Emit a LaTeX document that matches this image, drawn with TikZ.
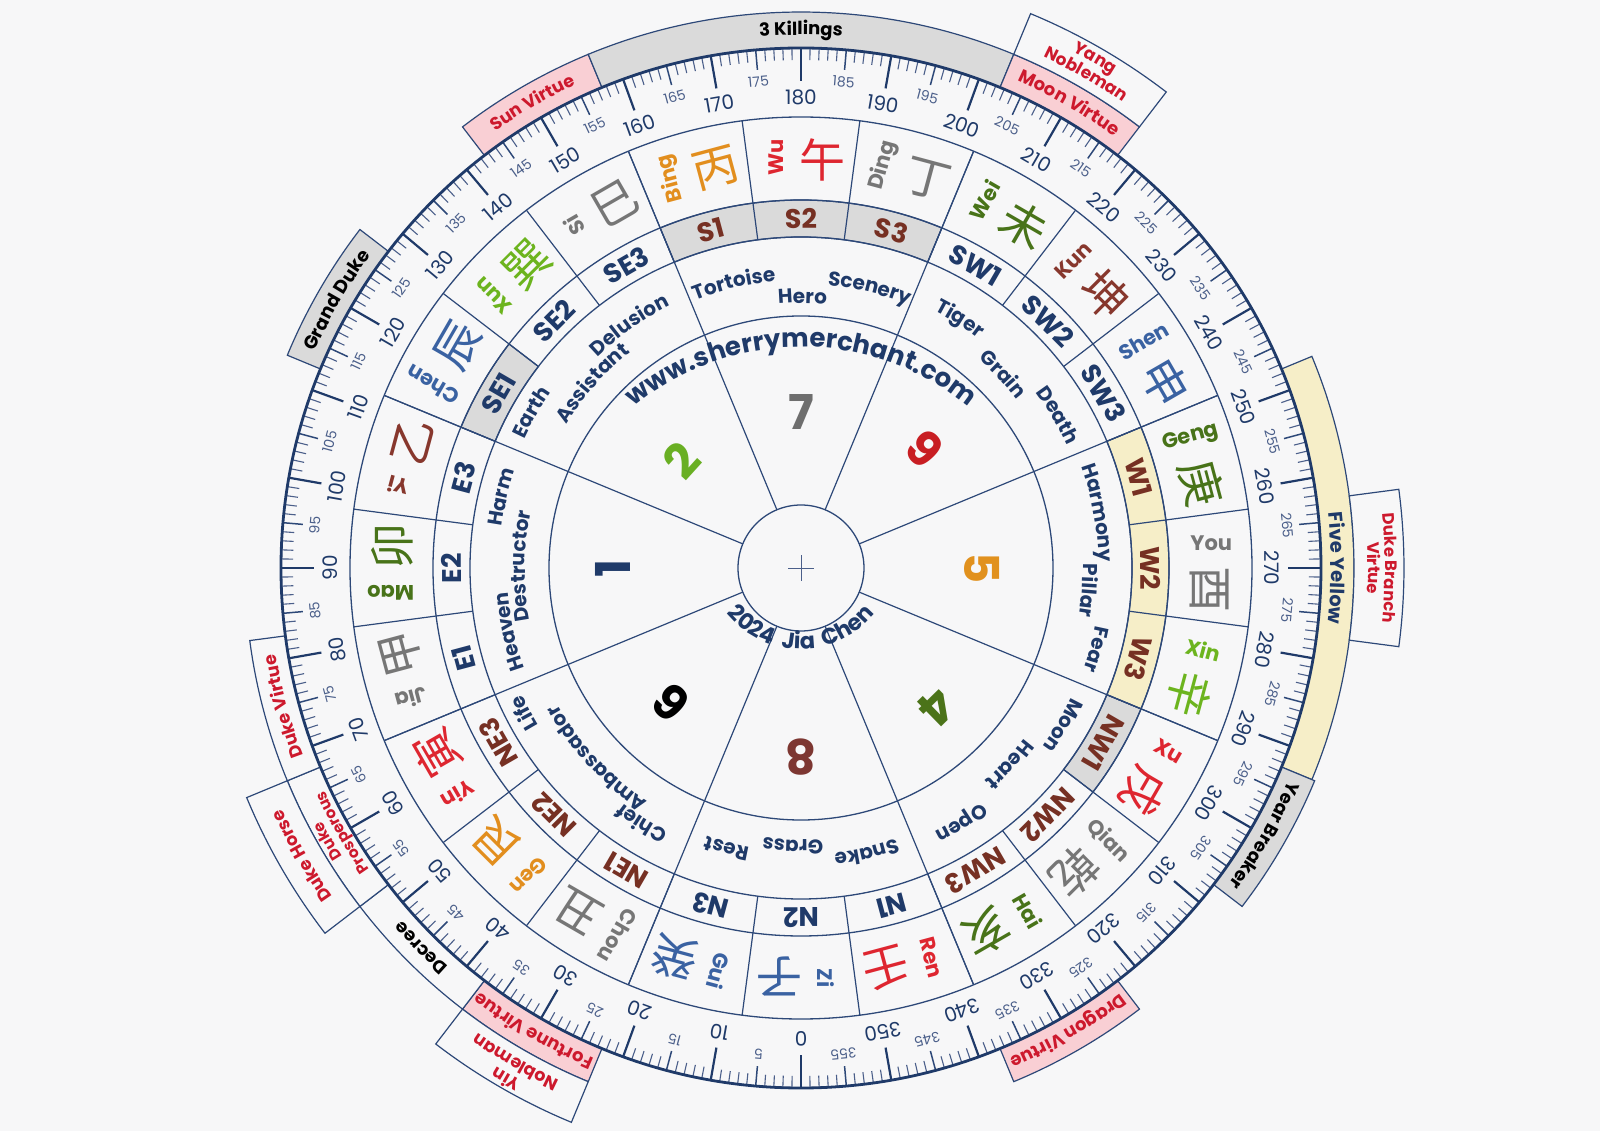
\documentclass[tikz,border=0pt]{standalone}
\usepackage{fontspec}
\setmainfont{Poppins}
\newfontfamily\cjkf{Noto Sans CJK SC}
\usetikzlibrary{decorations.text}
\definecolor{bg}{RGB}{247,247,248}
\definecolor{navy}{RGB}{31,58,105}
\definecolor{ln}{RGB}{45,72,120}
\definecolor{tickc}{RGB}{75,95,138}
\definecolor{cred}{RGB}{222,38,48}
\definecolor{corange}{RGB}{226,142,30}
\definecolor{cgray}{RGB}{118,118,118}
\definecolor{cdkgreen}{RGB}{72,115,25}
\definecolor{cltgreen}{RGB}{108,180,30}
\definecolor{cbrown}{RGB}{135,55,45}
\definecolor{cblue}{RGB}{58,98,162}
\definecolor{lblbrown}{RGB}{118,48,35}
\definecolor{fillgray}{RGB}{218,218,218}
\definecolor{fillcream}{RGB}{246,238,200}
\definecolor{fillpink}{RGB}{249,207,212}
\definecolor{txred}{RGB}{205,25,45}
\definecolor{sgray}{RGB}{110,110,110}
\definecolor{sgreen}{RGB}{105,175,35}
\definecolor{sred}{RGB}{200,30,35}
\definecolor{sorange}{RGB}{225,145,30}
\definecolor{sdkgreen}{RGB}{75,115,25}
\definecolor{sbrown}{RGB}{125,55,50}
\newcommand\fs[1]{\fontsize{#1}{#1}\selectfont}
\newcommand\bandbox[5]{%
  \pgfmathsetmacro\bbA{-90-#1}\pgfmathsetmacro\bbB{-90-#2}%
  \filldraw[fill=#5,draw=ln,line width=1.2] (\bbA:#3) arc[start angle=\bbA,end angle=\bbB,radius=#3]
    -- (\bbB:#4) arc[start angle=\bbB,end angle=\bbA,radius=#4] -- cycle;}
\newcommand\arcword[5]{%
  \pgfmathsetmacro\awA{#1+50}\pgfmathsetmacro\awB{#1-50}%
  \path[decorate,decoration={text along path,text align=center,text color=#4,
    text={|\bfseries\fs{#3}|#5}}] (\awA:#2) arc[start angle=\awA,end angle=\awB,radius=#2];}
\begin{document}
\begin{tikzpicture}[x=1pt,y=1pt]
\useasboundingbox (-801,-563) rectangle (799,568);
\fill[bg] (-801,-563) rectangle (799,568);
% outer annotation boxes
\bandbox{142.5}{157.5}{520}{556}{fillpink}
\bandbox{157.5}{202.5}{520}{556}{fillgray}
\bandbox{202.5}{217.5}{520}{556}{fillpink}
\bandbox{202.5}{217.5}{556}{600}{bg}
\bandbox{112.5}{127.5}{520}{556}{fillgray}
\bandbox{247.5}{292.5}{520}{553}{fillcream}
\bandbox{262.5}{277.5}{553}{603}{bg}
\bandbox{292.5}{307.5}{520}{556}{fillgray}
\bandbox{322.5}{337.5}{520}{556}{fillpink}
\bandbox{22.5}{37.5}{520}{556}{fillpink}
\bandbox{22.5}{37.5}{556}{600}{bg}
\bandbox{37.5}{52.5}{520}{556}{bg}
\bandbox{52.5}{67.5}{520}{556}{bg}
\bandbox{52.5}{67.5}{556}{600}{bg}
\bandbox{67.5}{82.5}{520}{556}{bg}
% sector fills
\bandbox{157.5}{202.5}{331}{368}{fillgray}
\bandbox{112.5}{127.5}{331}{368}{fillgray}
\bandbox{292.5}{307.5}{331}{368}{fillgray}
\bandbox{247.5}{292.5}{331}{368}{fillcream}
% circles
\foreach \rr in {63,252,331,368,451}{\draw[ln,line width=1.3] (0,0) circle[radius=\rr];}
% palace and mountain lines
\foreach \k in {0,...,7}{\pgfmathsetmacro\th{-90-22.5-45*\k}\draw[ln,line width=1.2] (\th:63) -- (\th:451);}
\foreach \k in {0,...,23}{\pgfmathsetmacro\th{-90-7.5-15*\k}\draw[ln,line width=1.2] (\th:331) -- (\th:451);}
\draw[tickc,line width=0.8] (-13,0) -- (13,0) (0,-13) -- (0,13);
% ticks
\foreach \dd in {0,...,359}{%
  \pgfmathsetmacro\th{-90-\dd}%
  \pgfmathtruncatemacro\mten{mod(\dd,10)}%
  \pgfmathtruncatemacro\mfive{mod(\dd,5)}%
  \ifnum\mten=0 \draw[navy,line width=2.2] (\th:520) -- (\th:487);
  \else\ifnum\mfive=0 \draw[ln,line width=1.5] (\th:520) -- (\th:500);
  \else \draw[tickc,line width=1.1] (\th:520) -- (\th:508);\fi\fi}
\draw[navy,line width=2.8] (0,0) circle[radius=520];
% degree labels
\foreach \dd in {0,5,...,355}{%
  \pgfmathsetmacro\th{-90-\dd}%
  \pgfmathtruncatemacro\mten{mod(\dd,10)}%
  \ifnum\mten=0 \node[text=navy,font=\fs{20},inner sep=0,rotate=\th-90] at (\th:471) {\dd};
  \else \node[text=tickc,font=\fs{14},inner sep=0,rotate=\th-90] at (\th:488) {\dd};\fi}
% mountains
\foreach \dd/\ch/\py/\col/\lab/\lcol in {0/子/Zi/cblue/N2/navy, 15/癸/Gui/cblue/N3/navy, 30/丑/Chou/cgray/NE1/lblbrown, 45/艮/Gen/corange/NE2/lblbrown, 60/寅/Yin/cred/NE3/lblbrown, 75/甲/Jia/cgray/E1/navy, 90/卯/Mao/cdkgreen/E2/navy, 105/乙/Yi/cbrown/E3/navy, 120/辰/Chen/cblue/SE1/navy, 135/巽/Xun/cltgreen/SE2/navy, 150/巳/Si/cgray/SE3/navy, 165/丙/Bing/corange/S1/lblbrown, 180/午/Wu/cred/S2/lblbrown, 195/丁/Ding/cgray/S3/lblbrown, 210/未/Wei/cdkgreen/SW1/navy, 225/坤/Kun/cbrown/SW2/navy, 240/申/Shen/cblue/SW3/navy, 255/庚/Geng/cdkgreen/W1/lblbrown, 270/酉/You/cgray/W2/lblbrown, 285/辛/Xin/cltgreen/W3/lblbrown, 300/戌/Xu/cred/NW1/lblbrown, 315/乾/Qian/cgray/NW2/lblbrown, 330/亥/Hai/cdkgreen/NW3/lblbrown, 345/壬/Ren/cred/N1/navy}{%
  \pgfmathsetmacro\th{-90-\dd}%
  \node[text=\col,font=\cjkf\fs{46},inner sep=0,rotate=\th-90] at (\th-3:409) {\ch};
  \node[text=\col,font=\bfseries\fs{21},inner sep=0,rotate=\th] at (\th+3.5:411) {\py};
  \node[text=\lcol,font=\bfseries\fs{27},inner sep=0,rotate=\th-90] at (\th:349.5) {\lab};}
% flying stars
\foreach \a/\r/\n/\c in {90/156/7/sgray, 137.8/161/2/sgreen, 44/172/9/sred, 0/181/5/sorange, 180/188/1/navy, -45.7/194/4/sdkgreen, -90/189/8/sbrown, -134/187/6/black}{%
  \node[text=\c,font=\bfseries\fs{48},inner sep=0,rotate=\a-90] at (\a:\r) {\n};}
% curved titles
\path[decorate,decoration={text along path,text align=center,text color=navy,
  text={|\bfseries\fs{26}|www.sherrymerchant.com}}] (-228.6,89) arc[start angle=150,end angle=30,radius=264];
\path[decorate,decoration={text along path,text align=center,text color=navy,
  text={|\bfseries\fs{22.5}|2024{\kern9pt}Jia{\kern9pt}Chen}}] (-92.73,-9.85) arc[start angle=-165,end angle=-15,radius=96];
% palace words
\arcword{103.3}{288}{20}{navy}{Tortoise}
\arcword{89.7}{265}{20}{navy}{Hero}
\arcword{76.2}{284}{20}{navy}{Scenery}
\arcword{57.5}{290}{20}{navy}{Tiger}
\arcword{43.8}{274}{20}{navy}{Grain}
\arcword{30.7}{293}{20}{navy}{Death}
\arcword{10.5}{298}{20}{navy}{Harmony}
\arcword{-4.5}{282}{20}{navy}{Pillar}
\arcword{-15.4}{300}{20}{navy}{Fear}
\arcword{-31}{300}{20}{navy}{Moon}
\arcword{-43.3}{281}{20}{navy}{Heart}
\arcword{-57.8}{296}{20}{navy}{Open}
\arcword{-77}{287}{20}{navy}{Snake}
\arcword{-91.7}{272}{20}{navy}{Grass}
\arcword{-104.9}{284}{20}{navy}{Rest}
\arcword{-122}{295}{20}{navy}{Chief}
\arcword{-137}{279}{20}{navy}{Ambassador}
\arcword{-152.4}{306}{20}{navy}{Life}
\arcword{192.3}{294}{20}{navy}{Heaven}
\arcword{179.6}{276}{20}{navy}{Destructor}
\arcword{166.7}{302}{20}{navy}{Harm}
\arcword{150}{305}{20}{navy}{Earth}
\arcword{138.5}{275}{20}{navy}{Assistant}
\arcword{125.2}{293}{20}{navy}{Delusion}
% band labels
\arcword{90}{533}{18}{black}{3 Killings}
\arcword{120}{533}{17.5}{txred}{Sun Virtue}
\arcword{60}{533}{18}{txred}{Moon Virtue}
\arcword{60}{584}{17}{txred}{Yang}
\arcword{60}{566}{17}{txred}{Nobleman}
\arcword{150}{532}{18.5}{black}{Grand Duke}
\arcword{0}{530}{19.5}{navy}{Five Yellow}
\arcword{0}{584}{16.5}{txred}{Duke Branch}
\arcword{0}{567}{16.5}{txred}{Virtue}
\arcword{-30}{532}{18}{black}{Year Breaker}
\arcword{-60}{532}{18}{txred}{Dragon Virtue}
\arcword{-120}{532}{18}{txred}{Fortune Virtue}
\arcword{-120}{584}{17.5}{txred}{Yin}
\arcword{-120}{566}{17.5}{txred}{Nobleman}
\arcword{-135}{532}{18}{black}{Decree}
\arcword{-150}{542}{15.5}{txred}{Duke}
\arcword{-150}{526}{15.5}{txred}{Prosperous}
\arcword{-150}{572}{17.5}{txred}{Duke Horse}
\arcword{-165}{532}{17.5}{txred}{Duke Virtue}
\end{tikzpicture}
\end{document}
